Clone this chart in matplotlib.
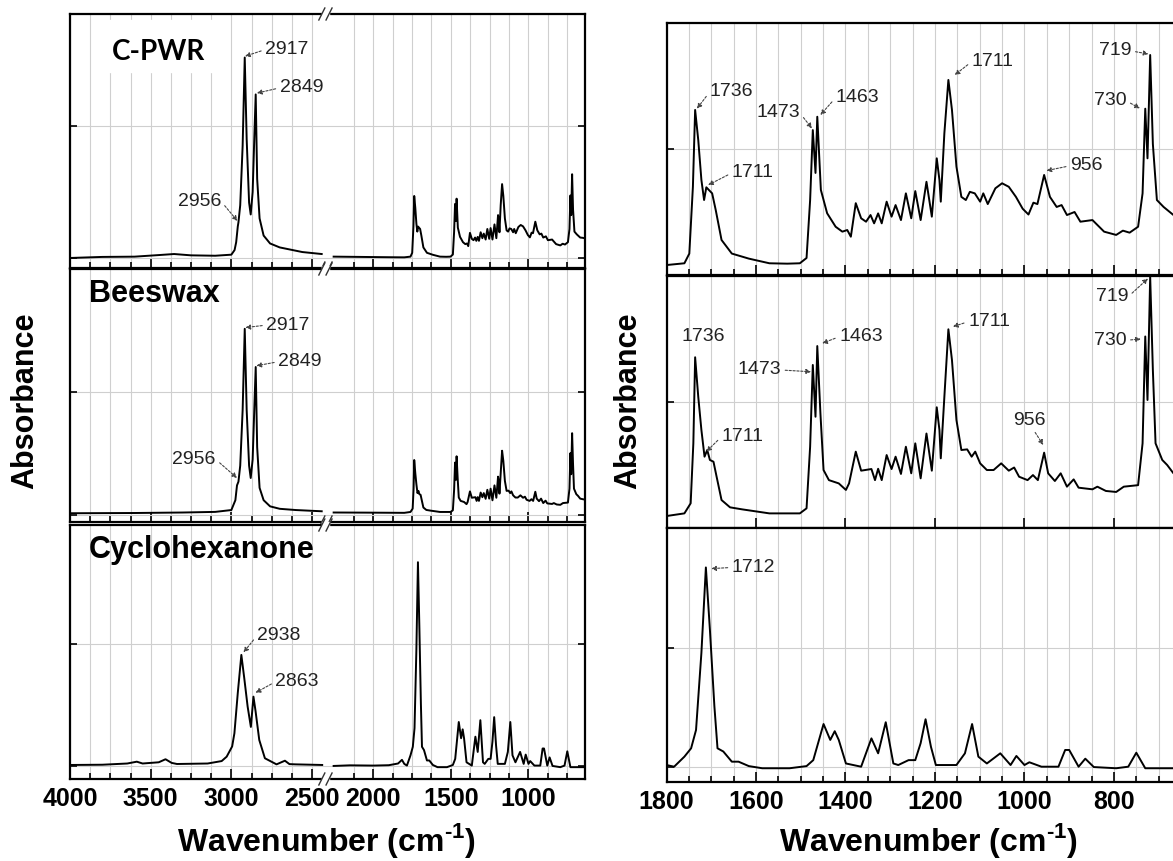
import numpy as np
import matplotlib
matplotlib.use("Agg")
import matplotlib.pyplot as plt
from matplotlib.patches import Rectangle

plt.rcParams['font.family'] = ['Liberation Sans', 'DejaVu Sans']
plt.rcParams['mathtext.fontset'] = 'custom'
plt.rcParams['mathtext.rm'] = 'Liberation Sans:bold'
plt.rcParams['mathtext.bf'] = 'Liberation Sans:bold'

# ---------------- data ----------------
# C-H stretching region, left panel units
cpwr_hi_wn = [4000, 3800, 3600, 3450, 3355, 3250, 3100, 3000, 2980, 2970, 2960, 2956, 2945,
              2930, 2917, 2905, 2890, 2880, 2868, 2858, 2849, 2840, 2825, 2800, 2760, 2700,
              2640, 2560, 2440]
cpwr_hi_abs = [0.0, 0.008, 0.01, 0.022, 0.03, 0.02, 0.017, 0.025, 0.06, 0.12, 0.24, 0.27, 0.40,
               0.85, 1.52, 0.9, 0.42, 0.33, 0.5, 0.9, 1.24, 0.6, 0.3, 0.17, 0.11, 0.08,
               0.065, 0.045, 0.03]

bees_hi_wn = [4000, 3600, 3300, 3100, 3000, 2975, 2965, 2956, 2945, 2930, 2917, 2905, 2890,
              2880, 2868, 2858, 2849, 2840, 2825, 2800, 2760, 2700, 2600, 2440]
bees_hi_abs = [0.014, 0.016, 0.02, 0.025, 0.04, 0.12, 0.24, 0.27, 0.40, 0.85, 1.51, 0.85, 0.40,
               0.30, 0.45, 0.85, 1.20, 0.55, 0.22, 0.12, 0.07, 0.05, 0.04, 0.03]

cyclo_hi_wn = [4000, 3800, 3645, 3586, 3550, 3450, 3408, 3370, 3337, 3147, 3060, 3029, 2995,
               2981, 2960, 2938, 2920, 2899, 2879, 2863, 2850, 2827, 2792, 2720, 2668, 2640,
               2602, 2437]
cyclo_hi_abs = [0.008, 0.01, 0.02, 0.035, 0.02, 0.03, 0.055, 0.025, 0.016, 0.02, 0.04, 0.076, 0.16,
                0.268, 0.6, 0.91, 0.72, 0.486, 0.32, 0.568, 0.45, 0.213, 0.063, 0.013, 0.043, 0.015,
                0.013, 0.008]

# fingerprint region, right panel units
cpwr_fp_wn = [2255, 2100, 1950, 1850, 1800, 1760, 1749, 1741, 1736, 1729, 1722, 1716, 1711, 1698,
              1690, 1677, 1654, 1616, 1570, 1530, 1502, 1487, 1479, 1473, 1467, 1463, 1455, 1441,
              1422, 1407, 1396, 1388, 1377, 1365, 1354, 1344, 1336, 1327, 1319, 1308, 1297, 1288,
              1276, 1265, 1253, 1244, 1232, 1219, 1207, 1196, 1190, 1187, 1179, 1170, 1162, 1152,
              1141, 1131, 1122, 1111, 1099, 1092, 1082, 1065, 1050, 1035, 1019, 1004, 991, 980,
              971, 956, 943, 928, 917, 905, 888, 875, 848, 822, 795, 780, 765, 746, 736, 730, 725,
              719, 713, 704, 689, 667, 650, 636]
cpwr_fp_abs = [0.093, 0.088, 0.083, 0.08, 0.079, 0.093, 0.17, 0.70, 1.31, 1.07, 0.754, 0.595, 0.696,
               0.648, 0.516, 0.278, 0.17, 0.13, 0.093, 0.09, 0.093, 0.135, 0.595, 1.15, 0.81, 1.256,
               0.675, 0.49, 0.383, 0.344, 0.357, 0.304, 0.57, 0.45, 0.423, 0.476, 0.41, 0.489, 0.41,
               0.582, 0.463, 0.555, 0.436, 0.648, 0.45, 0.666, 0.436, 0.74, 0.463, 0.926, 0.754,
               0.582, 1.124, 1.548, 1.31, 0.86, 0.62, 0.595, 0.66, 0.648, 0.582, 0.648, 0.563,
               0.688, 0.728, 0.70, 0.62, 0.526, 0.48, 0.574, 0.563, 0.794, 0.62, 0.54, 0.555, 0.476,
               0.50, 0.423, 0.436, 0.344, 0.318, 0.352, 0.336, 0.383, 0.648, 1.32, 0.926, 1.746,
               1.04, 0.595, 0.54, 0.476, 0.47, 0.46]

bees_fp_wn = [2255, 2050, 1900, 1800, 1760, 1746, 1740, 1736, 1729, 1722, 1715, 1709, 1703, 1695,
              1688, 1677, 1658, 1631, 1570, 1502, 1487, 1479, 1473, 1467, 1463, 1456, 1449, 1437,
              1415, 1399, 1392, 1377, 1365, 1342, 1334, 1327, 1319, 1308, 1297, 1288, 1276, 1265,
              1253, 1244, 1232, 1219, 1207, 1196, 1190, 1187, 1179, 1170, 1162, 1152, 1141, 1128,
              1118, 1110, 1099, 1084, 1069, 1052, 1035, 1023, 1012, 993, 981, 970, 956, 947, 932,
              919, 905, 890, 879, 848, 837, 818, 795, 778, 746, 736, 730, 725, 719, 713, 707, 692,
              681, 667, 650, 636]
bees_fp_abs = [0.103, 0.10, 0.097, 0.095, 0.116, 0.196, 0.672, 1.355, 1.04, 0.778, 0.566, 0.619, 0.54,
               0.526, 0.407, 0.222, 0.164, 0.148, 0.116, 0.116, 0.156, 0.645, 1.294, 0.883, 1.444,
               0.91, 0.46, 0.38, 0.354, 0.302, 0.354, 0.606, 0.455, 0.468, 0.38, 0.47, 0.38, 0.579,
               0.468, 0.566, 0.429, 0.645, 0.434, 0.672, 0.394, 0.75, 0.455, 0.958, 0.778, 0.553,
               1.04, 1.577, 1.333, 0.857, 0.619, 0.624, 0.566, 0.606, 0.513, 0.46, 0.46, 0.513,
               0.455, 0.48, 0.407, 0.38, 0.42, 0.38, 0.598, 0.434, 0.373, 0.434, 0.328, 0.386, 0.32,
               0.307, 0.328, 0.294, 0.286, 0.328, 0.34, 0.672, 1.52, 1.016, 1.995, 1.254, 0.672,
               0.54, 0.50, 0.434, 0.42, 0.41]

cyclo_fp_wn = [2255, 2150, 2000, 1900, 1840, 1815, 1800, 1783, 1760, 1745, 1734, 1722, 1712, 1703,
               1693, 1686, 1673, 1654, 1639, 1616, 1586, 1525, 1487, 1472, 1449, 1434, 1424, 1415,
               1399, 1365, 1342, 1327, 1310, 1293, 1282, 1259, 1244, 1232, 1221, 1209, 1198, 1152,
               1133, 1117, 1103, 1084, 1054, 1031, 1018, 1000, 989, 962, 924, 909, 900, 879, 864,
               845, 795, 768, 750, 730, 667, 636]
cyclo_fp_abs = [0.0, 0.005, 0.003, 0.006, 0.02, 0.05, 0.017, 0.003, 0.087, 0.157, 0.31, 0.955, 1.67,
                1.15, 0.51, 0.157, 0.13, 0.045, 0.045, 0.008, -0.01, -0.01, 0.008, 0.058, 0.36,
                0.227, 0.30, 0.227, 0.03, 0.003, 0.24, 0.115, 0.375, 0.03, 0.017, 0.058, 0.058, 0.2,
                0.40, 0.17, 0.017, 0.017, 0.115, 0.36, 0.087, 0.03, 0.115, 0.017, 0.093, 0.017,
                0.04, 0.003, 0.003, 0.143, 0.143, 0.003, 0.07, 0.0, -0.01, 0.003, 0.12, -0.01,
                -0.01, -0.01]

names = ['C-PWR', 'Beeswax', 'Cyclohexanone']
hi_wn = [cpwr_hi_wn, bees_hi_wn, cyclo_hi_wn]
hi_abs = [cpwr_hi_abs, bees_hi_abs, cyclo_hi_abs]
fp_wn = [cpwr_fp_wn, bees_fp_wn, cyclo_fp_wn]
fp_abs = [cpwr_fp_abs, bees_fp_abs, cyclo_fp_abs]
# left panel is normalised to the C-H band: (scale, offset) applied to fingerprint data
left_norm = [(0.378, -0.025), (0.34, -0.015), (1.0, 0.0)]

# peak labels: (text, peak point, text point, alignment)
left_labels = [
    [('2917', (2915, 1.53), (2790, 1.58), 'left'),
     ('2849', (2842, 1.25), (2700, 1.29), 'left'),
     ('2956', (2962, 0.28), (3064, 0.43), 'right')],
    [('2917', (2913, 1.52), (2783, 1.54), 'left'),
     ('2849', (2845, 1.21), (2709, 1.243), 'left'),
     ('2956', (2965, 0.30), (3096, 0.45), 'right')],
    [('2938', (2925, 0.93), (2840, 1.07), 'left'),
     ('2863', (2850, 0.60), (2727, 0.69), 'left')],
]
right_labels = [
    [('1736', (1732, 1.32), (1703, 1.455), 'left'),
     ('1711', (1707, 0.714), (1654, 0.81), 'left'),
     ('1473', (1475, 1.164), (1502, 1.286), 'right'),
     ('1463', (1456, 1.27), (1422, 1.407), 'left'),
     ('1711', (1156, 1.587), (1118, 1.693), 'left'),
     ('956', (951, 0.828), (898, 0.867), 'left'),
     ('719', (723, 1.754), (761, 1.778), 'right'),
     ('730', (742, 1.323), (772, 1.381), 'right')],
    [('1736', None, (1718, 1.518), 'center'),
     ('1711', (1711, 0.606), (1677, 0.725), 'left'),
     ('1473', (1477, 1.24), (1544, 1.254), 'right'),
     ('1463', (1452, 1.466), (1414, 1.518), 'left'),
     ('1711', (1160, 1.598), (1126, 1.637), 'left'),
     ('956', (958, 0.659), (989, 0.857), 'center'),
     ('719', (724, 1.98), (768, 1.836), 'right'),
     ('730', (740, 1.50), (772, 1.49), 'right')],
    [('1712', (1700, 1.66), (1654, 1.67), 'left')],
]

# ---------------- layout ----------------
W, H = 1173, 861
fig = plt.figure(figsize=(W / 100, H / 100), dpi=100)
GRID = '#cfcfcf'


def px_axes(x0, y0, x1, y1):
    return fig.add_axes([x0 / W, 1 - y1 / H, (x1 - x0) / W, (y1 - y0) / H])


# broken wavenumber axis for the left panel (gap between 2400 and 2290)
GAP_HI, GAP_LO = 2400, 2290
_w = np.array([0, GAP_LO, GAP_HI, 5000.])
_f = np.array([-GAP_LO * 0.1556, 0, 0.05, 0.05 + (5000 - GAP_HI) * 0.1617])


def fwd(x):
    return np.interp(x, _w, _f)


def inv(y):
    return np.interp(y, _f, _w)


def label_peaks(ax, labels):
    for txt, tip, pos, ha in labels:
        if tip is None:
            ax.text(*pos, txt, ha=ha, va='center', fontsize=14, color='#222')
            continue
        rel = {'left': (0, 0.5), 'right': (1, 0.5), 'center': (0.6, 0)}[ha]
        ax.annotate(txt, xy=tip, xytext=pos, ha=ha, va='center', fontsize=14, color='#222',
                    arrowprops=dict(arrowstyle='-|>', ls=(0, (2, 1.5)), lw=0.8, color='#444',
                                    mutation_scale=7, shrinkA=1, shrinkB=0, relpos=rel))


def break_marks(ax, h_px, w_px):
    for y in (0, 1):
        ax.add_patch(Rectangle((0.489, y - 3 / h_px), 0.014, 6 / h_px, transform=ax.transAxes,
                               color='white', clip_on=False, zorder=5))
        for xc in (0.489, 0.503):
            ax.plot([xc - 3 / w_px, xc + 3 / w_px], [y - 6 / h_px, y + 6 / h_px],
                    transform=ax.transAxes, color='#333', lw=1, clip_on=False, zorder=6)


left_rows = [(14, 268), (269, 522), (525, 779)]
left_ylims = [(-0.076, 1.85), (-0.057, 1.995), (-0.107, 1.975)]
right_rows = [(23, 275), (276, 528), (528, 782)]
right_ylims = [(0, 2), (0, 2), (-0.125, 2)]

left_major = [4000, 3500, 3000, 2500, 2000, 1500, 1000]
left_minor = [v for v in range(4000, 636, -125) if (v >= 2500 or v <= 2125) and v not in left_major]
right_major = [1800, 1600, 1400, 1200, 1000, 800]
right_minor = [v for v in range(1750, 630, -50) if v not in right_major]

for i in range(3):
    # ---- left panel row ----
    y0, y1 = left_rows[i]
    ax = px_axes(70, y0, 585, y1)
    ax.set_xscale('function', functions=(fwd, inv))
    ax.set_xlim(4000, 636)
    ax.set_ylim(*left_ylims[i])
    k, off = left_norm[i]
    ax.plot(hi_wn[i], hi_abs[i], color='black', lw=1.4, zorder=3)
    ax.plot(fp_wn[i], np.array(fp_abs[i]) * k + off, color='black', lw=1.4, zorder=3)
    ax.set_xticks(left_major, labels=[str(v) for v in left_major], fontsize=18, fontweight='bold')
    ax.set_xticks(left_minor, minor=True)
    ax.set_yticks([0, 1])
    ax.grid(True, which='both', axis='x', color=GRID, lw=0.8)
    ax.grid(True, which='major', axis='y', color=GRID, lw=0.8)
    ax.set_axisbelow(True)
    ax.tick_params(axis='x', which='both', direction='in', bottom=True, top=False,
                   labelbottom=(i == 2), pad=6, width=1.2)
    ax.tick_params(axis='x', which='major', length=7)
    ax.tick_params(axis='x', which='minor', length=4)
    ax.tick_params(axis='y', direction='in', left=True, right=True, labelleft=False,
                   length=5, width=1.2)
    for s in ax.spines.values():
        s.set_linewidth(1.6)
    label_peaks(ax, left_labels[i])
    break_marks(ax, y1 - y0, 515)
    if i == 0:
        ax.add_patch(Rectangle((0.042, 0.773), 0.2524, 0.2035, transform=ax.transAxes,
                               color='white', zorder=2))
        ax.text(0.081, 0.852, names[i], transform=ax.transAxes, ha='left', va='center',
                fontsize=20, fontweight='bold', family=['Lato', 'DejaVu Sans'], zorder=4)
    else:
        ax.text(0.037, 0.90, names[i], transform=ax.transAxes, ha='left', va='center',
                fontsize=22, fontweight='bold', zorder=4)

    # ---- right panel row ----
    y0, y1 = right_rows[i]
    ax = px_axes(666.5, y0, 1190, y1)
    ax.set_xlim(1800, 630)
    ax.set_ylim(*right_ylims[i])
    ax.plot(fp_wn[i], fp_abs[i], color='black', lw=1.4, zorder=3)
    ax.set_xticks(right_major, labels=[str(v) for v in right_major], fontsize=18,
                  fontweight='bold')
    ax.set_xticks(right_minor, minor=True)
    ax.set_yticks([0, 1, 2])
    ax.grid(True, which='both', axis='x', color=GRID, lw=0.8)
    ax.grid(True, which='major', axis='y', color=GRID, lw=0.8)
    ax.set_axisbelow(True)
    ax.tick_params(axis='x', which='both', direction='in', bottom=True, top=False,
                   labelbottom=(i == 2), pad=6, width=1.2)
    ax.tick_params(axis='x', which='major', length=7)
    ax.tick_params(axis='x', which='minor', length=4 if i != 1 else 0)
    ax.tick_params(axis='y', direction='in', left=True, right=False, labelleft=False,
                   length=5, width=1.2)
    for s in ax.spines.values():
        s.set_linewidth(1.6)
    ax.spines['right'].set_visible(False)
    label_peaks(ax, right_labels[i])

fig.text(25 / W, 1 - 401 / H, 'Absorbance', rotation=90, ha='center', va='center',
         fontsize=22, fontweight='bold')
fig.text(628 / W, 1 - 401 / H, 'Absorbance', rotation=90, ha='center', va='center',
         fontsize=22, fontweight='bold')
xlabel = r'Wavenumber (cm$^{\text{-1}}$)'
fig.text(326 / W, 1 - 840 / H, xlabel, ha='center', va='center', fontsize=23, fontweight='bold')
fig.text(928 / W, 1 - 840 / H, xlabel, ha='center', va='center', fontsize=23, fontweight='bold')

fig.savefig('out.png', dpi=100)
